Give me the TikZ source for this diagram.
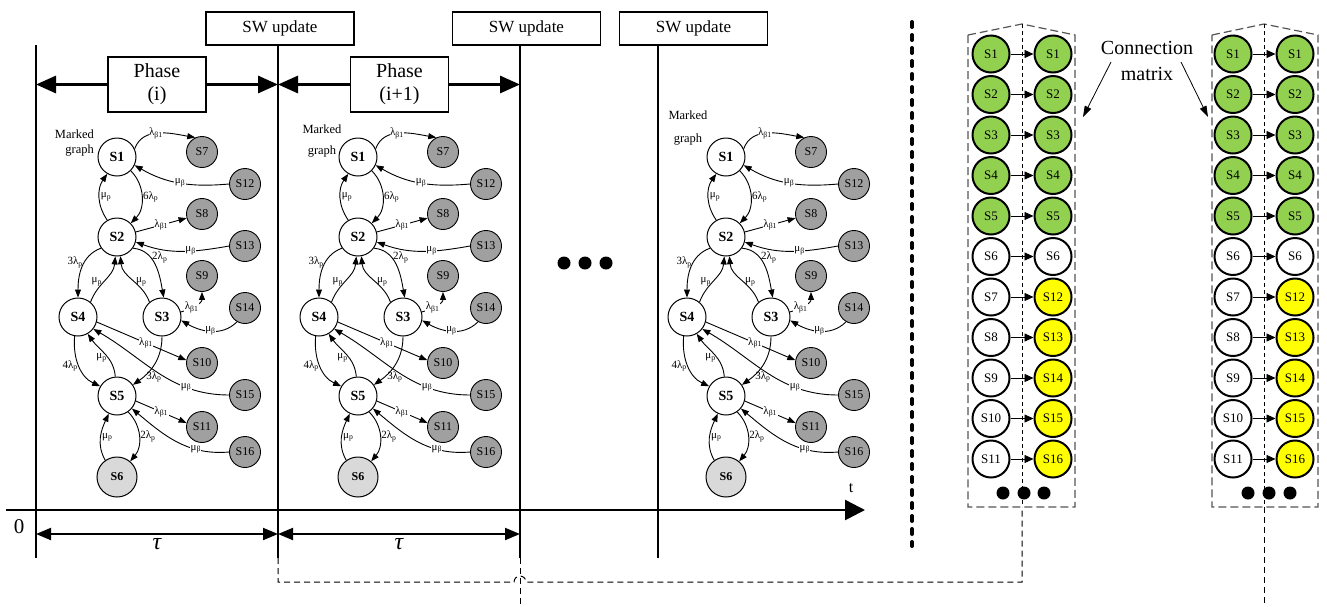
\documentclass[tikz,border=0pt]{standalone}
\usepackage{fontspec}
\setmainfont{Liberation Serif}
\usetikzlibrary{arrows.meta}
\definecolor{mgreen}{HTML}{92D050}
\definecolor{myel}{HTML}{FFFF00}
\definecolor{ngray}{HTML}{A0A0A0}
\definecolor{lgray}{HTML}{D9D9D9}
\definecolor{dgray}{HTML}{555555}
\newcommand\myfs[1]{\fontsize{#1}{#1}\selectfont}
\tikzset{
 wn/.style={circle, draw, line width=1pt, fill=white, minimum size=38pt, inner sep=0pt, font=\myfs{14}\bfseries},
 gn/.style={circle, draw, line width=0.9pt, fill=ngray, minimum size=31pt, inner sep=0pt, font=\myfs{12}},
 ln/.style={circle, draw, line width=1pt, fill=lgray, minimum size=40pt, inner sep=0pt, font=\myfs{12}\bfseries},
 ed/.style={line width=0.9pt, -{Triangle[length=8pt,width=6pt]}},
 lb/.style={font=\myfs{11}, fill=white, inner sep=0.5pt},
 lbn/.style={font=\myfs{11}, inner sep=1pt},
 mlab/.style={font=\myfs{12.5}, align=center, inner sep=0pt},
 swbox/.style={draw, line width=1.5pt, fill=white, minimum width=148pt, minimum height=33pt, inner sep=0pt, font=\myfs{17}},
 phbox/.style={draw, line width=1.5pt, fill=white, minimum width=98pt, minimum height=55pt, inner sep=0pt, align=center, font=\fontsize{20}{23}\selectfont},
 vline/.style={line width=2pt},
 pharr/.style={line width=3pt, -{Triangle[length=20pt,width=17pt]}},
 tauarr/.style={line width=2pt, {Triangle[length=15pt,width=12pt]}-{Triangle[length=15pt,width=12pt]}},
 axarr/.style={line width=2.5pt, -{Triangle[length=20pt,width=20pt]}},
 mn/.style={circle, draw, line width=2pt, minimum size=37pt, inner sep=0pt, font=\myfs{13}},
 marr/.style={line width=0.8pt, -{Triangle[length=9pt,width=8pt]}},
 outerdash/.style={draw=dgray, line width=1.2pt, dash pattern=on 8pt off 4pt},
 middash/.style={line width=1pt, dash pattern=on 4pt off 3pt},
 lowdash/.style={line width=1pt, dash pattern=on 6pt off 4pt},
 bigdot/.style={circle, fill=black, inner sep=0pt, minimum size=13pt},
}
\newcommand\mgraph[2]{%
\begin{scope}[shift={(#1,0)}, name prefix=#2-]
\node[wn] (S1) at (117,-157) {S1};
\node[wn] (S2) at (117,-237) {S2};
\node[wn] (S4) at (78,-317) {S4};
\node[wn] (S3) at (162,-317) {S3};
\node[wn] (S5) at (117,-396) {S5};
\node[ln] (S6) at (117,-477) {S6};
\node[gn] (S7) at (202,-152) {S7};
\node[gn] (S12) at (245,-184) {S12};
\node[gn] (S8) at (202,-214) {S8};
\node[gn] (S13) at (245,-246) {S13};
\node[gn] (S9) at (202,-276) {S9};
\node[gn] (S14) at (245,-308) {S14};
\node[gn] (S10) at (202,-363) {S10};
\node[gn] (S15) at (245,-395) {S15};
\node[gn] (S11) at (202,-427) {S11};
\node[gn] (S16) at (245,-452) {S16};
\draw[ed] (S1.25) to[out=70,in=170] node[lb,pos=0.45]{λ\textsubscript{β1}} (S7.115);
\draw[ed] (S12.west) to[out=185,in=-30] node[lb,pos=0.5]{μ\textsubscript{β}} (S1.-25);
\draw[ed] (S2.120) to[out=125,in=-125] node[lbn,right,pos=0.5]{μ\textsubscript{p}} (S1.240);
\draw[ed] (S1.-45) to[out=-45,in=45] node[lbn,right,pos=0.5]{6λ\textsubscript{p}} (S2.45);
\draw[ed] (S2.15) -- node[lb]{λ\textsubscript{β1}} (S8.195);
\draw[ed] (S13.west) to[out=190,in=-20] node[lb,pos=0.4]{μ\textsubscript{β}} (S2.-15);
\draw[ed] (S2.-35) to[out=-5,in=100] node[lbn,right,pos=0.35]{2λ\textsubscript{p}} (S3.85);
\draw[ed] (S2.215) to[out=200,in=90] node[lbn,left,pos=0.4]{3λ\textsubscript{p}} (S4.north);
\draw[ed] (S4.50) to[out=70,in=-95] node[lbn,left,pos=0.45]{μ\textsubscript{p}} (S2.-95);
\draw[ed] (S3.130) to[out=110,in=-85] node[lbn,right,pos=0.45]{μ\textsubscript{p}} (S2.-80);
\draw[ed] (S3.15) to[out=15,in=-90] node[lb,pos=0.35]{λ\textsubscript{β1}} (S9.south);
\draw[ed] (S14.-120) to[out=-135,in=-30] node[lb,pos=0.5]{μ\textsubscript{β}} (S3.-10);
\draw[ed] (S4.-15) -- node[lb,pos=0.55]{λ\textsubscript{β1}} (S10.170);
\draw[ed] (S15.west) to[out=180,in=-30] node[lb,pos=0.28]{μ\textsubscript{β}} (S4.-38);
\draw[ed] (S4.-100) to[out=-95,in=155] node[lbn,left,pos=0.5]{4λ\textsubscript{p}} (S5.150);
\draw[ed] (S5.95) to[out=95,in=-55] node[lbn,left,pos=0.4]{μ\textsubscript{p}} (S4.-60);
\draw[ed] (S3.-90) to[out=-90,in=35] node[lbn,right=2pt,pos=0.8]{3λ\textsubscript{p}} (S5.35);
\draw[ed] (S5.-15) -- node[lb]{λ\textsubscript{β1}} (S11.165);
\draw[ed] (S16.west) to[out=185,in=-40] node[lb,pos=0.3]{μ\textsubscript{β}} (S5.-40);
\draw[ed] (S5.-55) to[out=-45,in=50] node[lbn,right,pos=0.5]{2λ\textsubscript{p}} (S6.50);
\draw[ed] (S6.125) to[out=120,in=-115] node[lbn,right,pos=0.5]{μ\textsubscript{p}} (S5.-115);
\end{scope}}
\begin{document}
\begin{tikzpicture}[x=1pt,y=1pt]
\useasboundingbox[fill=white] (0,0) rectangle (1327,-606);
% time frame
\node[swbox] (sw1) at (280,-28.5) {SW update};
\node[swbox] (sw2) at (526.5,-28.5) {SW update};
\node[swbox] (sw3) at (693.5,-28.5) {SW update};
\coordinate (V0t) at (36,-45); \coordinate (V0b) at (36,-558);
\coordinate (V1t) at (278,-45); \coordinate (V1b) at (278,-558);
\coordinate (V2t) at (520,-45); \coordinate (V2b) at (520,-558);
\coordinate (V3t) at (658,-45); \coordinate (V3b) at (658,-558);
\draw[vline] (V0t) -- (V0b);
\draw[vline] (V1t) -- (V1b);
\draw[vline] (V2t) -- (V2b);
\draw[vline] (V3t) -- (V3b);
\node[phbox] (ph1) at (157,-84.5) {Phase\\(i)};
\node[phbox] (ph2) at (399.5,-84.5) {Phase\\(i+1)};
\draw[pharr] (ph1.west) -- (ph1.west -| V0t);
\draw[pharr] (ph1.east) -- (ph1.east -| V1t);
\draw[pharr] (ph2.west) -- (ph2.west -| V1t);
\draw[pharr] (ph2.east) -- (ph2.east -| V2t);
\coordinate (ax0) at (6,-510); \coordinate (ax1) at (865,-510);
\draw[axarr] (ax0) -- (ax1);
\node[font=\myfs{16}] (tl) at (851,-488) {t};
\node[font=\myfs{21}] (zero) at (19,-527) {0};
\coordinate (T0) at (36,-534); \coordinate (T1) at (278,-534); \coordinate (T2) at (520,-534);
\draw[tauarr] (T0) -- (T1);
\draw[tauarr] (T1) -- (T2);
\node[font=\myfs{24}\itshape] (tau1) at (157,-544) {τ};
\node[font=\myfs{24}\itshape] (tau2) at (399,-544) {τ};
% marked graphs
\mgraph{0}{a}
\mgraph{241}{b}
\mgraph{609}{c}
\node[mlab, align=right, anchor=east] (mg1) at (94,-143) {Marked\\[3pt]graph};
\node[mlab] (mg2) at (322,-141) {Marked\\[8pt]graph};
\node[mlab] (mg3) at (688,-128) {Marked\\[10pt]graph};
\node[bigdot] (d1) at (564,-263) {};
\node[bigdot] (d2) at (585,-263) {};
\node[bigdot] (d3) at (606,-263) {};
% separator
\coordinate (sepT) at (912,-22); \coordinate (sepB) at (912,-546);
\draw[line width=4pt, dash pattern=on 5pt off 8pt, line cap=round] (sepT) -- (sepB);
% connection matrices
\draw[outerdash] (968,-35) -- (1022,-24) -- (1075,-35) -- (1075,-507) -- (968,-507) -- cycle;
\draw[outerdash] (1212,-35) -- (1264,-24) -- (1318,-35) -- (1318,-507) -- (1212,-507) -- cycle;
\coordinate (mAt) at (1022,-24); \coordinate (mAb) at (1022,-507);
\coordinate (mBt) at (1264,-24); \coordinate (mBb) at (1264,-507);
\draw[middash] (mAt) -- (mAb);
\draw[middash] (mBt) -- (mBb);
\foreach \i/\l/\r/\lc/\rc in {0/S1/S1/mgreen/mgreen,1/S2/S2/mgreen/mgreen,2/S3/S3/mgreen/mgreen,3/S4/S4/mgreen/mgreen,4/S5/S5/mgreen/mgreen,5/S6/S6/white/white,6/S7/S12/white/myel,7/S8/S13/white/myel,8/S9/S14/white/myel,9/S10/S15/white/myel,10/S11/S16/white/myel}{
 \node[mn, fill=\lc] (mA-l\i) at (991,{-54-40.5*\i}) {\l};
 \node[mn, fill=\rc] (mA-r\i) at (1053,{-54-40.5*\i}) {\r};
 \draw[marr] (mA-l\i) -- (mA-r\i);
 \node[mn, fill=\lc] (mB-l\i) at (1233,{-54-40.5*\i}) {\l};
 \node[mn, fill=\rc] (mB-r\i) at (1295,{-54-40.5*\i}) {\r};
 \draw[marr] (mB-l\i) -- (mB-r\i);
}
\node[bigdot] (ea1) at (1003,-493) {};
\node[bigdot] (ea2) at (1024,-493) {};
\node[bigdot] (ea3) at (1044,-493) {};
\node[bigdot] (eb1) at (1248,-493) {};
\node[bigdot] (eb2) at (1269,-493) {};
\node[bigdot] (eb3) at (1290,-493) {};
\node[font=\fontsize{20}{26}\selectfont, align=center] (cm) at (1147,-61) {Connection\\matrix};
\coordinate (cmAs) at (1111,-62); \coordinate (cmAe) at (1083,-117);
\coordinate (cmBs) at (1181,-62); \coordinate (cmBe) at (1208,-117);
\draw[line width=0.8pt, -{Triangle[length=11pt,width=7pt]}] (cmAs) -- (cmAe);
\draw[line width=0.8pt, -{Triangle[length=11pt,width=7pt]}] (cmBs) -- (cmBe);
% lower dashed links
\coordinate (h0) at (278,-582); \coordinate (h1) at (514,-582); \coordinate (h2) at (1022,-582);
\coordinate (bot2) at (520,-606); \coordinate (botB) at (1264,-606);
\draw[lowdash] (V1b) -- (h0) -- (h1) arc[start angle=180,end angle=0,radius=6] -- (h2) -- (mAb);
\draw[lowdash] (V2b) -- (bot2);
\draw[lowdash] (mBb) -- (botB);
\end{tikzpicture}
\end{document}
